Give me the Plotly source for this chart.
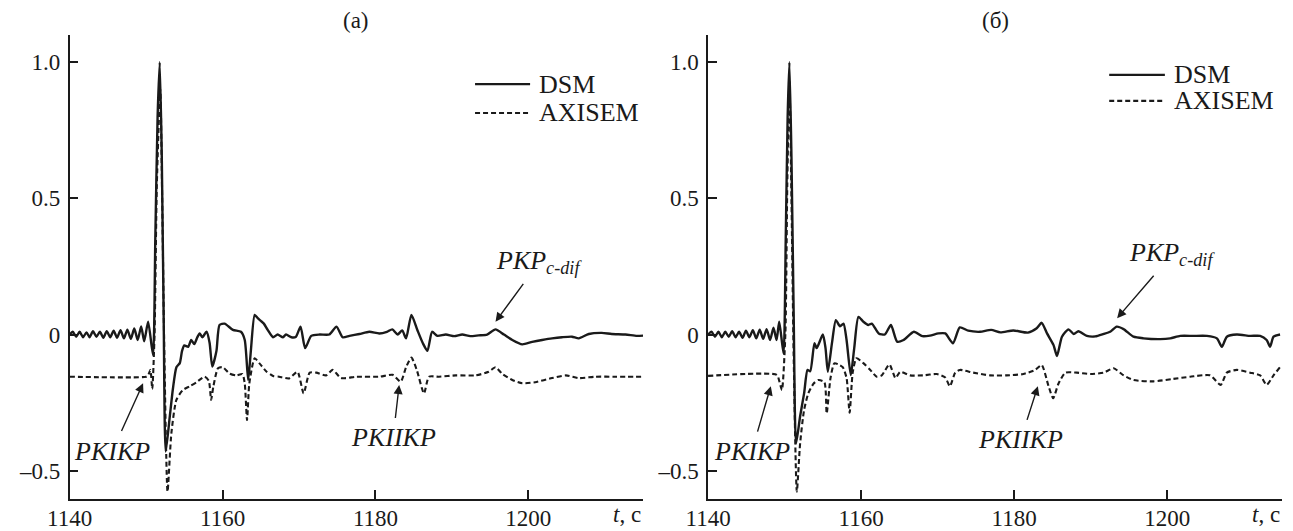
import plotly.graph_objects as go
from plotly.subplots import make_subplots

# ---- data: panel (а) ----
t_dsm_a = [1140.0, 1140.4, 1140.85, 1141.3, 1141.75, 1142.2, 1142.6, 1143.05, 1143.5, 1143.95,
           1144.4, 1144.85, 1145.3, 1145.75, 1146.2, 1146.65, 1147.1, 1147.55, 1148.0, 1148.45,
           1148.9, 1149.35, 1149.75, 1150.26, 1150.9, 1151.2, 1151.5, 1151.78, 1152.05, 1152.3,
           1152.56, 1153.1, 1153.5, 1153.96, 1154.4, 1154.7, 1155.0, 1155.5, 1155.9, 1156.3,
           1156.7, 1157.0, 1157.35, 1157.9, 1158.3, 1158.65, 1159.2, 1159.6, 1160.26, 1161.35,
           1162.4, 1162.9, 1163.35, 1163.7, 1164.2, 1164.6, 1165.0, 1165.4, 1165.9, 1166.6,
           1167.2, 1167.9, 1168.3, 1169.0, 1169.6, 1170.2, 1170.8, 1171.6, 1172.7, 1173.96,
           1174.9, 1175.7, 1176.6, 1177.9, 1179.2, 1180.5, 1181.5, 1182.2, 1182.9, 1183.5,
           1184.0, 1184.7, 1185.5, 1186.2, 1186.8, 1187.4, 1188.1, 1189.2, 1190.3, 1191.35,
           1192.4, 1193.5, 1194.6, 1195.7, 1196.8, 1197.9, 1199.2, 1200.5, 1201.8, 1203.1,
           1204.4, 1205.7, 1206.6, 1207.9, 1209.6, 1210.9, 1212.7, 1214.2, 1215.0]
v_dsm_a = [0.0, 0.01, -0.008, 0.01, -0.01, 0.008, -0.01, 0.012, -0.008, 0.01,
           -0.012, 0.012, -0.01, 0.014, -0.012, 0.016, -0.014, 0.018, -0.016, 0.022,
           -0.02, 0.03, -0.025, 0.047, -0.075, 0.35, 0.8, 1.0, 0.65, 0.05,
           -0.43, -0.30, -0.2, -0.12, -0.105, -0.06, -0.04, -0.045, -0.02, -0.035,
           -0.01, 0.004, -0.01, 0.01, -0.03, -0.118, -0.06, 0.035, 0.04, 0.017,
           0.01, -0.02, -0.167, -0.06, 0.072, 0.06, 0.05, 0.04, 0.017, -0.01,
           0.0, -0.01, 0.0, -0.01, -0.008, 0.029, -0.05, -0.005, 0.0, 0.0,
           0.029, -0.01, -0.005, 0.002, 0.01, 0.004, 0.01, 0.019, 0.0, 0.015,
           -0.014, 0.072, 0.015, -0.032, -0.06, 0.01, -0.005, 0.0, -0.006, 0.0,
           -0.006, -0.003, 0.0, 0.019, 0.0, -0.02, -0.036, -0.027, -0.02, -0.014,
           -0.01, -0.008, -0.014, 0.002, 0.006, 0.002, 0.0, -0.005, -0.004]

t_axi_a = [1140.0, 1150.0, 1150.26, 1150.56, 1150.8, 1151.1, 1151.4, 1151.85, 1152.1, 1152.4,
           1152.8, 1153.3, 1153.96, 1154.8, 1155.7, 1156.6, 1157.65, 1158.2, 1158.5, 1158.8,
           1159.4, 1160.0, 1160.9, 1161.8, 1162.6, 1162.9, 1163.2, 1163.5, 1164.2, 1164.8,
           1165.7, 1166.6, 1167.4, 1168.7, 1169.8, 1170.6, 1171.4, 1172.25, 1173.55, 1174.4,
           1175.5, 1177.5, 1180.5, 1182.25, 1183.3, 1184.0, 1184.7, 1185.4, 1186.35, 1187.0,
           1188.3, 1190.5, 1193.1, 1194.8, 1195.7, 1196.6, 1197.9, 1199.2, 1200.9, 1203.1,
           1204.9, 1206.6, 1208.75, 1211.4, 1215.0]
v_axi_a = [-0.155, -0.155, -0.15, -0.13, -0.2, 0.0, 0.55, 0.9, 0.5, -0.1,
           -0.577, -0.363, -0.24, -0.204, -0.19, -0.175, -0.155, -0.17, -0.24, -0.19,
           -0.124, -0.12, -0.143, -0.15, -0.145, -0.18, -0.314, -0.18, -0.087, -0.105,
           -0.135, -0.152, -0.155, -0.161, -0.137, -0.216, -0.14, -0.14, -0.15, -0.13,
           -0.16, -0.155, -0.155, -0.148, -0.173, -0.12, -0.085, -0.13, -0.216, -0.155,
           -0.155, -0.15, -0.15, -0.137, -0.12, -0.145, -0.167, -0.179, -0.175, -0.16,
           -0.15, -0.16, -0.155, -0.155, -0.155]

# ---- data: panel (б) ----
t_dsm_b = [1140.0, 1140.45, 1140.9, 1141.35, 1141.8, 1142.25, 1142.7, 1143.15, 1143.6, 1144.05,
           1144.5, 1144.95, 1145.4, 1145.85, 1146.3, 1146.75, 1147.2, 1147.65, 1148.1, 1148.55,
           1148.95, 1149.3, 1149.86, 1150.15, 1150.4, 1150.63, 1150.9, 1151.2, 1151.5, 1152.03,
           1152.55, 1153.0, 1153.35, 1153.9, 1154.2, 1155.0, 1155.35, 1155.65, 1156.2, 1156.7,
           1157.25, 1157.7, 1158.1, 1158.65, 1159.1, 1159.65, 1160.3, 1160.95, 1161.4, 1162.3,
           1163.1, 1163.9, 1164.7, 1165.55, 1166.9, 1168.0, 1169.0, 1170.1, 1171.0, 1172.0,
           1172.9, 1174.0, 1175.55, 1177.0, 1178.2, 1179.9, 1181.8, 1182.95, 1183.6, 1184.3,
           1185.15, 1185.6, 1186.25, 1187.1, 1187.8, 1188.4, 1189.5, 1190.6, 1191.7, 1192.55,
           1193.4, 1194.3, 1195.6, 1196.9, 1199.1, 1200.4, 1201.7, 1203.4, 1205.2, 1206.5,
           1207.15, 1207.8, 1209.1, 1210.85, 1212.15, 1213.0, 1213.45, 1213.9, 1214.75]
v_dsm_b = [0.0, 0.01, -0.008, 0.01, -0.01, 0.01, -0.008, 0.012, -0.01, 0.01,
           -0.012, 0.014, -0.01, 0.016, -0.014, 0.018, -0.016, 0.02, -0.02, 0.025,
           -0.02, 0.047, -0.07, 0.35, 0.8, 1.0, 0.65, 0.05, -0.40, -0.30,
           -0.216, -0.13, -0.135, -0.032, -0.05, 0.0, -0.05, -0.137, -0.03, 0.053,
           0.03, 0.04, -0.02, -0.149, -0.05, 0.065, 0.047, 0.035, 0.04, 0.004,
           0.0, 0.035, -0.026, -0.02, 0.01, -0.006, -0.004, 0.004, 0.004, -0.032,
           0.026, 0.014, 0.01, 0.017, 0.008, 0.015, 0.007, 0.023, 0.043, 0.004,
           -0.039, -0.079, -0.008, 0.019, 0.002, 0.012, -0.005, -0.007, 0.002, 0.01,
           0.029, 0.02, -0.008, -0.014, -0.017, -0.014, -0.005, -0.005, -0.005, -0.014,
           -0.045, -0.008, 0.0, -0.005, -0.005, -0.02, -0.045, -0.008, 0.0]

t_axi_b = [1140.0, 1148.98, 1149.3, 1149.65, 1150.1, 1150.35, 1150.63, 1150.9, 1151.2, 1151.6,
           1152.03, 1152.55, 1153.1, 1153.8, 1154.4, 1155.2, 1155.5, 1156.0, 1156.5, 1157.05,
           1157.6, 1158.1, 1158.5, 1158.9, 1159.4, 1160.3, 1161.2, 1162.05, 1162.7, 1163.7,
           1164.5, 1165.1, 1166.4, 1168.1, 1169.9, 1171.0, 1171.6, 1172.3, 1172.9, 1174.65,
           1176.85, 1179.0, 1181.2, 1182.75, 1183.6, 1184.5, 1185.1, 1185.8, 1186.7, 1188.2,
           1189.96, 1191.7, 1193.0, 1194.3, 1195.6, 1198.2, 1200.8, 1203.0, 1205.6, 1207.0,
           1207.8, 1209.1, 1210.85, 1212.15, 1213.0, 1213.9, 1214.75]
v_axi_b = [-0.152, -0.148, -0.17, -0.204, 0.0, 0.55, 0.93, 0.5, -0.1, -0.577,
           -0.40, -0.277, -0.216, -0.18, -0.167, -0.175, -0.29, -0.16, -0.106, -0.11,
           -0.12, -0.16, -0.287, -0.14, -0.087, -0.105, -0.13, -0.155, -0.15, -0.11,
           -0.16, -0.137, -0.15, -0.15, -0.145, -0.158, -0.19, -0.14, -0.13, -0.14,
           -0.15, -0.15, -0.145, -0.13, -0.112, -0.19, -0.234, -0.18, -0.14, -0.14,
           -0.145, -0.14, -0.124, -0.15, -0.167, -0.172, -0.163, -0.155, -0.15, -0.185,
           -0.14, -0.13, -0.14, -0.15, -0.185, -0.15, -0.12]

x_ticks = [1140, 1160, 1180, 1200]
x_tick_text = ["1140", "1160", "1180", "1200"]
y_ticks = [-0.5, 0, 0.5, 1.0]
y_tick_text = ["\u20130.5", "0", "0.5", "1.0"]
panel_titles = ["(\u0430)", "(\u0431)"]
series_names = ["DSM", "AXISEM"]

FONT = "Liberation Serif"
BLACK = "#1a1a1a"

# page has an 8px body margin, so the figure is 8px smaller than the window
FIG_W, FIG_H = 1285, 523

fig = make_subplots(rows=1, cols=2)

dsm_line = dict(color=BLACK, width=2.4, shape="spline", smoothing=0.6)
axi_line = dict(color=BLACK, width=2.1, dash="5px,3px", shape="spline", smoothing=0.6)

fig.add_trace(go.Scatter(x=t_dsm_a, y=v_dsm_a, mode="lines", name=series_names[0],
                         line=dsm_line, showlegend=False), row=1, col=1)
fig.add_trace(go.Scatter(x=t_axi_a, y=v_axi_a, mode="lines", name=series_names[1],
                         line=axi_line, showlegend=False), row=1, col=1)
fig.add_trace(go.Scatter(x=t_dsm_b, y=v_dsm_b, mode="lines", name=series_names[0],
                         line=dsm_line, showlegend=False), row=1, col=2)
fig.add_trace(go.Scatter(x=t_axi_b, y=v_axi_b, mode="lines", name=series_names[1],
                         line=axi_line, showlegend=False), row=1, col=2)

xdom1 = [0.0480, 0.4942]
xdom2 = [0.5448, 0.9914]
ydom = [0.0612, 0.9484]

axis_common = dict(showline=True, linecolor=BLACK, linewidth=1.5, ticks="inside",
                   ticklen=9, tickwidth=1.5, tickcolor=BLACK, showgrid=False,
                   zeroline=False, automargin=False,
                   tickfont=dict(family=FONT, size=23, color=BLACK))

for i, xd in zip([1, 2], [xdom1, xdom2]):
    fig.update_xaxes(domain=xd, range=[1140, 1215], tickvals=x_ticks, ticktext=x_tick_text,
                     ticklabelstandoff=-2, row=1, col=i, **axis_common)
    fig.update_yaxes(domain=ydom, range=[-0.604, 1.1], tickvals=y_ticks, ticktext=y_tick_text,
                     ticklabelstandoff=3, row=1, col=i, **axis_common)

ann = []
shapes = []
# panel titles
for xd, title in zip([xdom1, xdom2], panel_titles):
    ann.append(dict(text=title, x=(xd[0] + xd[1]) / 2, y=1.0, xref="paper", yref="paper",
                    xanchor="center", yanchor="top", yshift=2, showarrow=False,
                    font=dict(family=FONT, size=23, color=BLACK)))
# axis label t, c
for xr in ["x", "x2"]:
    ann.append(dict(text="<i>t</i>, c", x=1215, y=ydom[0], xref=xr, yref="paper",
                    xanchor="right", yanchor="top", yshift=-1, showarrow=False,
                    font=dict(family=FONT, size=23, color=BLACK)))

# phase labels with arrows: text sits at the arrow tail, arrow points to the phase
label_font = dict(family=FONT, size=26, color=BLACK)
phase_labels = [
    # xref, yref, text, text_x, text_y, tip_x, tip_y
    ("x", "y", "<i>PKIKP</i>", 1145.6, -0.428, 1149.6, -0.179),
    ("x", "y", "<i>PKIIKP</i>", 1182.3, -0.38, 1183.1, -0.185),
    ("x", "y", "<i>PKP<sub>c-dif</sub></i>", 1201.4, 0.265, 1195.7, 0.047),
    ("x2", "y2", "<i>PKIKP</i>", 1145.7, -0.43, 1148.2, -0.19),
    ("x2", "y2", "<i>PKIIKP</i>", 1180.85, -0.387, 1183.1, -0.19),
    ("x2", "y2", "<i>PKP<sub>c-dif</sub></i>", 1200.65, 0.295, 1193.46, 0.06),
]
for xr, yr, txt, lx, ly, tx, ty in phase_labels:
    ann.append(dict(text=txt, x=tx, y=ty, xref=xr, yref=yr, ax=lx, ay=ly,
                    axref=xr, ayref=yr, showarrow=True, arrowhead=2, arrowsize=1.3,
                    arrowwidth=1.4, arrowcolor=BLACK, borderpad=5, font=label_font))

# legends drawn inside each panel (line key + label)
legend_pos = [
    # xref, yref, key x0, key x1, text x, row y (DSM), row y (AXISEM)
    ("x domain", "y domain", 0.707, 0.803, 0.815, 0.894, 0.832),
    ("x2 domain", "y2 domain", 0.699, 0.796, 0.808, 0.914, 0.858),
]
key_styles = [dict(color=BLACK, width=2.4), dict(color=BLACK, width=2.1, dash="5px,3px")]
for xr, yr, k0, k1, tx, y_dsm, y_axi in legend_pos:
    for name, yy, st in zip(series_names, [y_dsm, y_axi], key_styles):
        shapes.append(dict(type="line", xref=xr, yref=yr, x0=k0, x1=k1, y0=yy, y1=yy, line=st))
        ann.append(dict(text=name, x=tx, y=yy, xref=xr, yref=yr, xanchor="left",
                        yanchor="middle", showarrow=False,
                        font=dict(family=FONT, size=26, color=BLACK)))

fig.update_layout(
    width=FIG_W, height=FIG_H,
    margin=dict(l=0, r=0, t=0, b=0),
    paper_bgcolor="white", plot_bgcolor="white",
    showlegend=False,
    annotations=ann,
    shapes=shapes,
)

fig.write_html("out.html")
